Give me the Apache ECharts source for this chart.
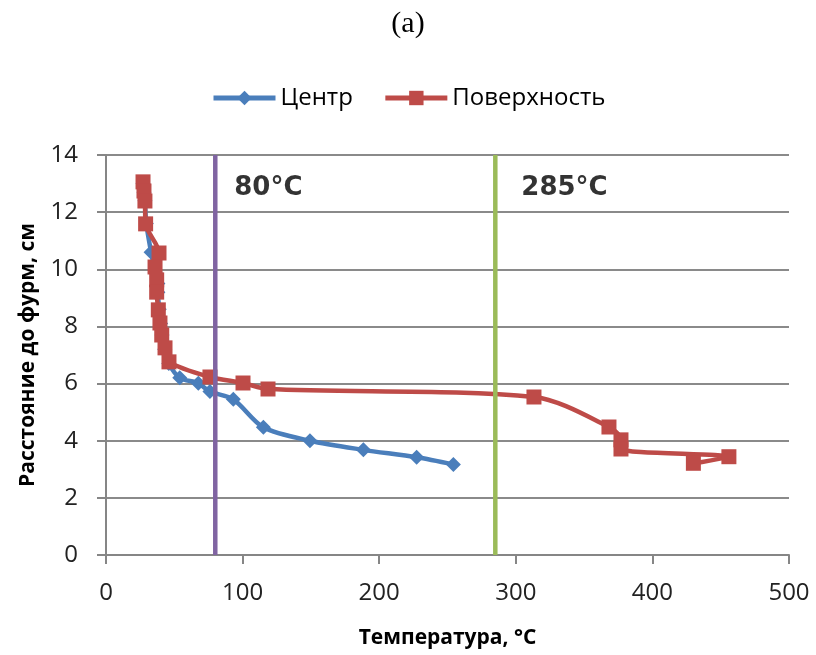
<!DOCTYPE html>
<html>
<head>
<meta charset="utf-8">
<script src="https://cdn.jsdelivr.net/npm/echarts@6/dist/echarts.min.js"></script>
<style>
html,body{margin:0;padding:0;background:#fff;}
#chart{width:816px;height:655px;}
</style>
</head>
<body>
<div id="chart"></div>
<script>
// ---- data ----
const seriesNames = ['Центр', 'Поверхность'];
const centerX = [27.1, 27.8, 28.5, 29.5, 33, 36, 38, 38, 39, 40, 41, 43, 46, 54, 67.6, 76.1, 93.2, 115.2, 149.3, 188.4, 227.4, 254.3];
const centerY = [13.0, 12.7, 12.4, 11.6, 10.6, 9.9, 9.5, 9.2, 8.6, 8.1, 7.7, 7.2, 6.7, 6.2, 6.01, 5.72, 5.45, 4.47, 4.0, 3.68, 3.42, 3.17];
const surfX = [27.1, 27.8, 28.5, 29.0, 38.8, 35.9, 37.1, 37.1, 38.3, 39.5, 40.8, 43.2, 46.1, 76.1, 100.3, 118.6, 313.3, 368.2, 377, 377, 456, 430];
const surfY = [13.06, 12.74, 12.39, 11.59, 10.57, 10.08, 9.63, 9.2, 8.58, 8.12, 7.7, 7.25, 6.76, 6.23, 6.02, 5.81, 5.53, 4.48, 4.03, 3.71, 3.44, 3.21];
const refTemps = [80, 285];
const refLabels = ['80°C', '285°C'];
const refLabelY = 12.85;
const xTicks = [0, 100, 200, 300, 400, 500];
const yTicks = [0, 2, 4, 6, 8, 10, 12, 14];
const titleText = '(a)';
const xTitle = 'Температура, °C';
const yTitle = 'Расстояние до фурм, см';

const zip = (a, b) => a.map((v, i) => [v, b[i]]);
const refColors = ['#8064A2', '#9BBB59'];
const refDist = [19, 26];

const chart = echarts.init(document.getElementById('chart'), null, {renderer: 'canvas'});
const refSeries = [];
refTemps.forEach((t, i) => {
  refSeries.push({
    type: 'line', name: 'ref' + i, data: [[t, yTicks[0]], [t, yTicks[yTicks.length - 1]]],
    symbol: 'none', silent: true, z: 5,
    lineStyle: {color: refColors[i], width: 4.5}
  });
  refSeries.push({
    type: 'scatter', name: 'lbl' + i, data: [[t, refLabelY]], symbolSize: 0, silent: true, z: 6,
    label: {show: true, position: 'right', distance: refDist[i], formatter: refLabels[i],
      fontFamily: 'DejaVu Sans', fontWeight: 'bold', fontSize: 26, color: '#000'}
  });
});

const option = {
  animation: false,
  backgroundColor: '#fff',
  title: {text: titleText, left: 'center', top: 4,
    textStyle: {fontFamily: 'Liberation Serif', fontWeight: 'normal', fontSize: 30, color: '#000'}},
  legend: {
    data: seriesNames, top: 81, left: 206, itemWidth: 62, itemHeight: 18, itemGap: 30,
    lineStyle: {width: 5},
    textStyle: {fontFamily: 'Open Sans', fontSize: 24, color: '#000'}
  },
  grid: {left: 106, right: 27, top: 155, bottom: 100},
  xAxis: {
    type: 'value', min: xTicks[0], max: xTicks[xTicks.length - 1], interval: 100,
    name: xTitle, nameLocation: 'middle', nameGap: 73,
    nameTextStyle: {fontFamily: 'Open Sans', fontWeight: 'bold', fontSize: 21, color: '#000'},
    axisLine: {show: true, lineStyle: {color: '#868686', width: 2}},
    axisTick: {show: true, length: 9, lineStyle: {color: '#868686', width: 2}},
    axisLabel: {margin: 26, fontFamily: 'Open Sans', fontSize: 24, color: '#222'},
    splitLine: {show: false}
  },
  yAxis: {
    type: 'value', min: yTicks[0], max: yTicks[yTicks.length - 1], interval: 2,
    name: yTitle, nameLocation: 'middle', nameGap: 67, nameRotate: 90,
    nameTextStyle: {fontFamily: 'Open Sans', fontWeight: 'bold', fontSize: 21, color: '#000'},
    axisLine: {show: true, lineStyle: {color: '#868686', width: 2}},
    axisTick: {show: true, length: 9, lineStyle: {color: '#868686', width: 2}},
    axisLabel: {margin: 28, fontFamily: 'Open Sans', fontSize: 24, color: '#222'},
    splitLine: {show: true, lineStyle: {color: '#8a8a8a', width: 2}}
  },
  series: [
    {
      type: 'line', name: seriesNames[0], data: zip(centerX, centerY), smooth: 0.3,
      symbol: 'diamond', symbolSize: 15, z: 3,
      lineStyle: {color: '#4A7EBB', width: 4.5}, itemStyle: {color: '#4A7EBB'}
    },
    {
      type: 'line', name: seriesNames[1], data: zip(surfX, surfY), smooth: 0.3,
      symbol: 'rect', symbolSize: 15, z: 4,
      lineStyle: {color: '#BE4B48', width: 4.5}, itemStyle: {color: '#BE4B48'}
    },
    ...refSeries
  ]
};
chart.setOption(option);
</script>
</body>
</html>
